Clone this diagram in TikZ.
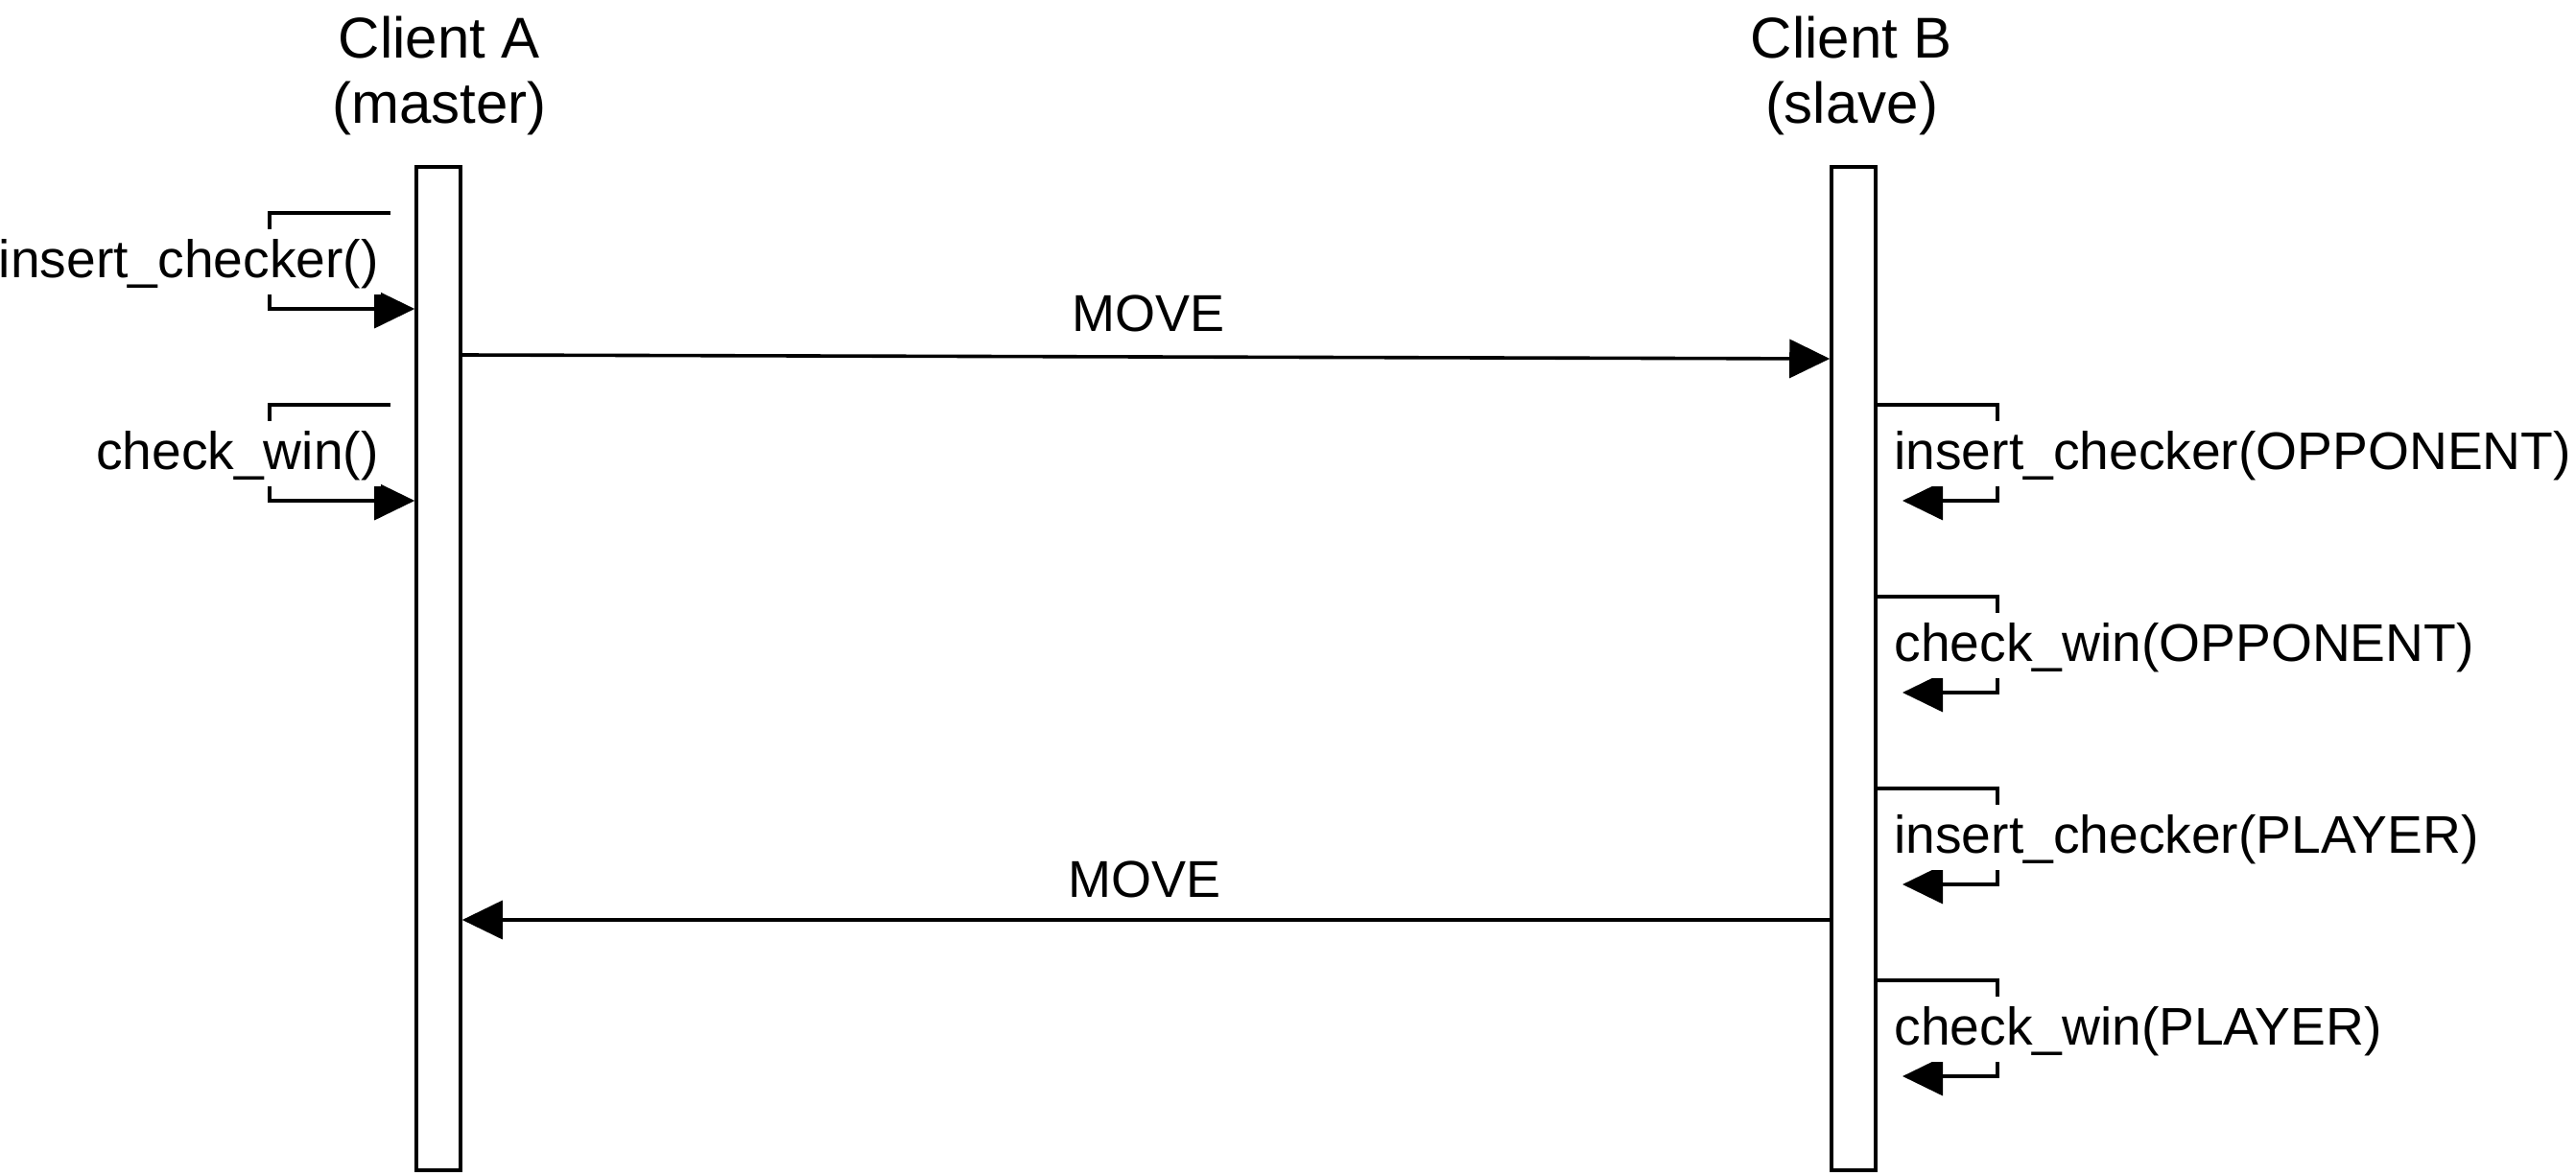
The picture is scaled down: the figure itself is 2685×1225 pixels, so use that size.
\documentclass[tikz,border=0pt]{standalone}
\usepackage{fontspec}
\setmainfont{Liberation Sans}
\usetikzlibrary{arrows.meta}
\begin{document}
\begin{tikzpicture}[x=0.5pt,y=-0.5pt,
  lifebox/.style={draw, line width=1.8pt, fill=white, minimum width=23pt, minimum height=523pt, inner sep=0pt},
  msg/.style={line width=1.8pt, -{Triangle[length=21pt,width=20pt]}},
  lbl/.style={font=\fontsize{27pt}{32pt}\selectfont, inner sep=0pt},
  title/.style={font=\fontsize{30pt}{36pt}\selectfont, inner sep=0pt},
  calllbl/.style={font=\fontsize{27.6pt}{32pt}\selectfont, fill=white, text height=22pt, text depth=6pt, inner ysep=3pt, inner xsep=1pt}
]
\useasboundingbox (0,0) rectangle (2685,1225);

% lifelines
\node[lifebox] (A) at (457,697) {};
\node[lifebox] (B) at (1932,697) {};
\node[title, anchor=base] (Aname) at (458,61) {Client A};
\node[title, anchor=base] (Arole) at (458,129) {(master)};
\node[title, anchor=base] (Bname) at (1930,61) {Client B};
\node[title, anchor=base] (Brole) at (1930,129) {(slave)};

% self calls on A
\coordinate (a1s) at (407,222);
\coordinate (a1c) at (281,222);
\coordinate (a1y) at (0,322);
\draw[msg] (a1s) -- (a1c) |- (A.west |- a1y);
\node[calllbl, anchor=base east] (a1l) at (397,289) {insert\_checker()};

\coordinate (a2s) at (407,422);
\coordinate (a2c) at (281,422);
\coordinate (a2y) at (0,522);
\draw[msg] (a2s) -- (a2c) |- (A.west |- a2y);
\node[calllbl, anchor=base east] (a2l) at (397,489) {check\_win()};

% MOVE A -> B
\coordinate (m1a) at (0,370);
\coordinate (m1b) at (0,374);
\draw[msg] (A.east |- m1a) -- (B.west |- m1b);
\node[lbl, anchor=base] (m1l) at (1197,345) {MOVE};

% self calls on B
\coordinate (b1y) at (0,422);
\coordinate (b1c) at (2082,422);
\coordinate (b1e) at (1983,522);
\draw[msg] (B.east |- b1y) -- (b1c) |- (b1e);
\node[calllbl, anchor=base west] (b1l) at (1972,489) {insert\_checker(OPPONENT)};

\coordinate (b2y) at (0,622);
\coordinate (b2c) at (2082,622);
\coordinate (b2e) at (1983,722);
\draw[msg] (B.east |- b2y) -- (b2c) |- (b2e);
\node[calllbl, anchor=base west] (b2l) at (1972,689) {check\_win(OPPONENT)};

\coordinate (b3y) at (0,822);
\coordinate (b3c) at (2082,822);
\coordinate (b3e) at (1983,922);
\draw[msg] (B.east |- b3y) -- (b3c) |- (b3e);
\node[calllbl, anchor=base west] (b3l) at (1972,889) {insert\_checker(PLAYER)};

\coordinate (b4y) at (0,1022);
\coordinate (b4c) at (2082,1022);
\coordinate (b4e) at (1983,1122);
\draw[msg] (B.east |- b4y) -- (b4c) |- (b4e);
\node[calllbl, anchor=base west] (b4l) at (1972,1089) {check\_win(PLAYER)};

% MOVE B -> A
\coordinate (m2) at (0,959);
\draw[msg] (B.west |- m2) -- (A.east |- m2);
\node[lbl, anchor=base] (m2l) at (1193,935) {MOVE};
\end{tikzpicture}
\end{document}
